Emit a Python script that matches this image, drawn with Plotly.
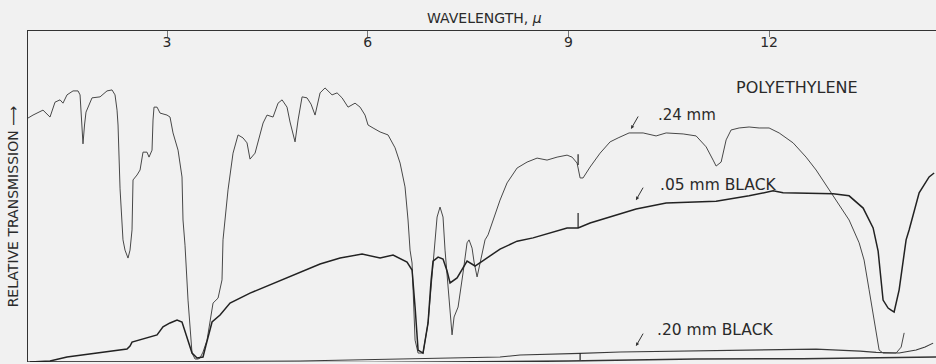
import plotly.graph_objects as go

# ---------------- data (wavelength in micrometres, relative transmission %) ----------------
wl_024 = [0.922, 0.997, 1.146, 1.251, 1.326, 1.401, 1.445, 1.505, 1.595, 1.670, 1.700, 1.722, 1.744,
          1.767, 1.789, 1.879, 1.999, 2.103, 2.178, 2.223, 2.253, 2.268, 2.298, 2.342, 2.372, 2.417,
          2.447, 2.477, 2.492, 2.552, 2.597, 2.641, 2.701, 2.731, 2.776, 2.791, 2.806, 2.851, 2.896,
          3.000, 3.045, 3.090, 3.165, 3.224, 3.239, 3.269, 3.314, 3.374, 3.419, 3.464, 3.493, 3.538,
          3.598, 3.688, 3.763, 3.822, 3.837, 3.912, 3.987, 4.062, 4.136, 4.196, 4.241, 4.316, 4.391,
          4.436, 4.495, 4.585, 4.660, 4.720, 4.794, 4.839, 4.914, 4.959, 5.019, 5.093, 5.153, 5.213,
          5.288, 5.362, 5.467, 5.542, 5.617, 5.706, 5.811, 5.886, 5.960, 6.005, 6.080, 6.185, 6.304,
          6.409, 6.484, 6.558, 6.603, 6.633, 6.663, 6.708, 6.753, 6.827, 6.902, 6.977, 7.007, 7.037,
          7.081, 7.126, 7.156, 7.186, 7.261, 7.291, 7.351, 7.425, 7.485, 7.515, 7.560, 7.590, 7.635,
          7.680, 7.754, 7.799, 7.874, 7.978, 8.083, 8.233, 8.382, 8.532, 8.681, 8.831, 8.980, 9.055,
          9.130, 9.175, 9.219, 9.324, 9.474, 9.623, 9.743, 9.907, 10.117, 10.311, 10.461, 10.715,
          10.909, 11.059, 11.163, 11.208, 11.283, 11.358, 11.432, 11.552, 11.701, 11.851, 12.000,
          12.150, 12.359, 12.553, 12.703, 12.897, 13.196, 13.346, 13.420, 13.495, 13.570, 13.645,
          13.704, 13.899, 13.974, 14.019]
tr_024 = [73.7, 74.6, 76.1, 74.0, 78.5, 79.2, 78.2, 80.7, 81.9, 81.9, 80.7, 74.6, 65.9,
          71.6, 75.5, 79.8, 80.1, 81.9, 82.2, 80.7, 76.1, 71.6, 52.3, 36.9, 33.8, 31.4,
          33.8, 39.9, 55.0, 56.5, 58.0, 63.4, 63.4, 61.9, 64.0, 73.1, 77.0, 77.0, 75.2,
          74.6, 74.0, 69.2, 64.0, 55.9, 42.9, 35.3, 18.7, 2.7, 0.9, 0.9, 1.2, 3.0,
          6.6, 17.8, 19.3, 24.8, 36.9, 52.0, 63.1, 68.6, 67.7, 66.2, 61.3, 63.1, 69.2,
          72.2, 74.6, 74.0, 78.2, 79.2, 77.0, 72.5, 66.5, 73.1, 80.1, 79.8, 77.9, 74.6,
          81.3, 82.8, 80.7, 81.3, 79.8, 77.0, 78.2, 77.0, 74.6, 71.6, 70.7, 69.5, 68.6,
          64.7, 60.1, 52.9, 42.9, 33.8, 29.9, 6.6, 2.7, 2.7, 11.8, 30.8, 36.9, 43.8,
          46.8, 43.8, 33.8, 26.9, 8.2, 13.6, 16.6, 26.9, 36.0, 36.9, 34.4, 30.2, 25.7,
          29.9, 36.9, 38.4, 42.9, 48.9, 54.1, 58.6, 60.4, 61.6, 61.0, 61.9, 62.5, 61.9,
          60.1, 55.6, 55.6, 58.9, 63.1, 66.5, 67.7, 69.2, 69.2, 68.3, 69.2, 68.9,
          68.3, 65.0, 61.0, 59.2, 60.4, 67.1, 70.1, 70.7, 71.0, 70.7, 70.7,
          69.2, 66.2, 61.9, 58.0, 52.0, 42.9, 36.0, 30.8, 21.8, 12.7, 3.6,
          2.7, 2.7, 4.5, 8.8]

wl_005 = [0.952, 1.251, 1.505, 1.999, 2.402, 2.447, 2.477, 2.851, 2.940, 3.045, 3.150, 3.224, 3.299,
          3.374, 3.449, 3.538, 3.583, 3.613, 3.673, 3.793, 3.942, 4.241, 4.644, 4.839, 4.988, 5.288,
          5.587, 5.916, 6.185, 6.379, 6.588, 6.663, 6.708, 6.753, 6.827, 6.902, 6.947, 6.977, 7.052,
          7.126, 7.186, 7.231, 7.336, 7.485, 7.605, 7.710, 7.978, 8.233, 8.472, 8.980, 9.145, 9.324,
          9.772, 10.012, 10.461, 11.208, 11.701, 12.060, 12.209, 12.957, 13.196, 13.406, 13.555,
          13.630, 13.704, 13.779, 13.824, 13.869, 13.944, 14.048, 14.093, 14.243, 14.392, 14.467]
tr_005 = [0.0, 0.3, 1.5, 2.7, 3.9, 4.8, 6.0, 8.2, 10.6, 11.8, 12.7, 12.1, 7.6,
          2.7, 1.2, 1.5, 5.1, 7.6, 12.1, 14.2, 17.8, 20.8, 24.2, 25.7, 27.2, 29.6,
          31.4, 32.6, 31.4, 32.3, 30.2, 27.8, 16.6, 3.6, 2.7, 11.8, 24.5, 30.5, 31.7,
          31.1, 27.5, 23.9, 25.4, 30.5, 29.0, 30.5, 34.1, 36.5, 37.5, 40.5, 40.5, 42.0,
          44.7, 46.2, 48.0, 48.6, 50.2, 51.7, 51.1, 50.8, 50.2, 46.5, 40.5,
          33.5, 18.7, 16.3, 15.7, 15.1, 21.8, 36.9, 39.9, 51.1, 55.9, 57.1]

wl_020 = [0.952, 1.999, 3.493, 4.988, 5.736, 6.484, 7.231, 7.978, 8.277, 8.980, 9.175, 9.772,
          10.715, 11.701, 12.703, 13.361, 13.600, 13.944, 14.198, 14.332, 14.452]
tr_020 = [0.0, 0.0, 0.15, 0.3, 0.6, 0.75, 1.05, 1.5, 2.1, 2.4, 2.6, 3.0,
          3.3, 3.6, 3.9, 3.3, 2.9, 2.7, 3.6, 4.5, 5.7]

wl_zero = [0.922, 3.0, 6.0, 9.0, 10.9, 12.5, 14.2, 14.5]
tr_zero = [0.0, 0.0, -0.2, 0.3, 0.9, 1.0, 1.5, 1.5]

# wavelength fiducial marks (short vertical strokes on the traces)
fid_wl = [9.145, 9.145, 9.175]
fid_lo = [59.5, 40.5, 0.6]
fid_hi = [62.8, 45.0, 2.7]

tick_vals = [3, 6, 9, 12]
tick_text = ["3", "6", "9", "12"]

# ---------------- figure ----------------
BG = "#f1f1f1"
INK = "#2a2a2a"
FONT = "DejaVu Sans"

fig = go.Figure()
fig.add_trace(go.Scatter(x=wl_zero, y=tr_zero, mode="lines",
                         line=dict(color="#333333", width=1.6), hoverinfo="skip"))
fig.add_trace(go.Scatter(x=wl_020, y=tr_020, mode="lines",
                         line=dict(color="#3a3a3a", width=1.1), hoverinfo="skip"))
fig.add_trace(go.Scatter(x=wl_024, y=tr_024, mode="lines",
                         line=dict(color="#484848", width=1.0), hoverinfo="skip"))
fig.add_trace(go.Scatter(x=wl_005, y=tr_005, mode="lines",
                         line=dict(color="#222222", width=1.5), hoverinfo="skip"))

fx, fy = [], []
for w, lo, hi in zip(fid_wl, fid_lo, fid_hi):
    fx += [w, w, None]
    fy += [lo, hi, None]
fig.add_trace(go.Scatter(x=fx, y=fy, mode="lines",
                         line=dict(color="#222222", width=1.2), hoverinfo="skip"))

annos = [
    dict(text="WAVELENGTH, <i>µ</i>", xref="x", yref="paper", x=7.746, y=1.038,
         xanchor="center", yanchor="middle", showarrow=False,
         font=dict(size=14, color=INK, family=FONT)),
    dict(text="RELATIVE TRANSMISSION ⟶", xref="paper", yref="y", x=-0.0155, y=47.0,
         textangle=-90, xanchor="center", yanchor="middle", showarrow=False,
         font=dict(size=14, color=INK, family=FONT)),
    dict(text="POLYETHYLENE", xref="x", yref="y", x=12.417, y=82.8,
         xanchor="center", yanchor="middle", showarrow=False,
         font=dict(size=16, color=INK, family=FONT)),
    dict(text=".24 mm", xref="x", yref="y", x=10.31, y=74.6,
         xanchor="left", yanchor="middle", showarrow=False,
         font=dict(size=15, color=INK, family=FONT)),
    dict(text=".05 mm BLACK", xref="x", yref="y", x=10.34, y=53.5,
         xanchor="left", yanchor="middle", showarrow=False,
         font=dict(size=15.5, color=INK, family=FONT)),
    dict(text=".20 mm BLACK", xref="x", yref="y", x=10.29, y=9.7,
         xanchor="left", yanchor="middle", showarrow=False,
         font=dict(size=15.5, color=INK, family=FONT)),
]
for hx, hy in [(9.936, 70.4), (10.01, 48.9), (10.01, 4.8)]:
    annos.append(dict(text="", xref="x", yref="y", x=hx, y=hy, ax=8, ay=-14,
                      showarrow=True, arrowhead=2, arrowsize=0.7, arrowwidth=1,
                      arrowcolor="#333333"))

fig.update_layout(
    width=936, height=364,
    margin=dict(l=28, r=0, t=31, b=2),
    paper_bgcolor=BG, plot_bgcolor=BG,
    showlegend=False,
    annotations=annos,
    font=dict(family=FONT, color=INK),
    xaxis=dict(range=[0.922, 14.495], side="top", showgrid=False, zeroline=False,
               showline=True, linecolor="#333333", linewidth=1.3,
               tickvals=tick_vals, ticktext=tick_text, ticks="inside", ticklen=6,
               tickcolor="#777777", ticklabelposition="inside",
               tickfont=dict(size=14, color=INK, family=FONT)),
    yaxis=dict(range=[0, 100], showgrid=False, zeroline=False, showticklabels=False,
               ticks="", showline=True, linecolor="#333333", linewidth=1.3),
)

fig.write_html(
    "out.html",
    config={"displayModeBar": False},
    post_script="document.body.style.margin='0';document.body.style.background='#f1f1f1';"
                "document.body.style.overflow='hidden';",
)
